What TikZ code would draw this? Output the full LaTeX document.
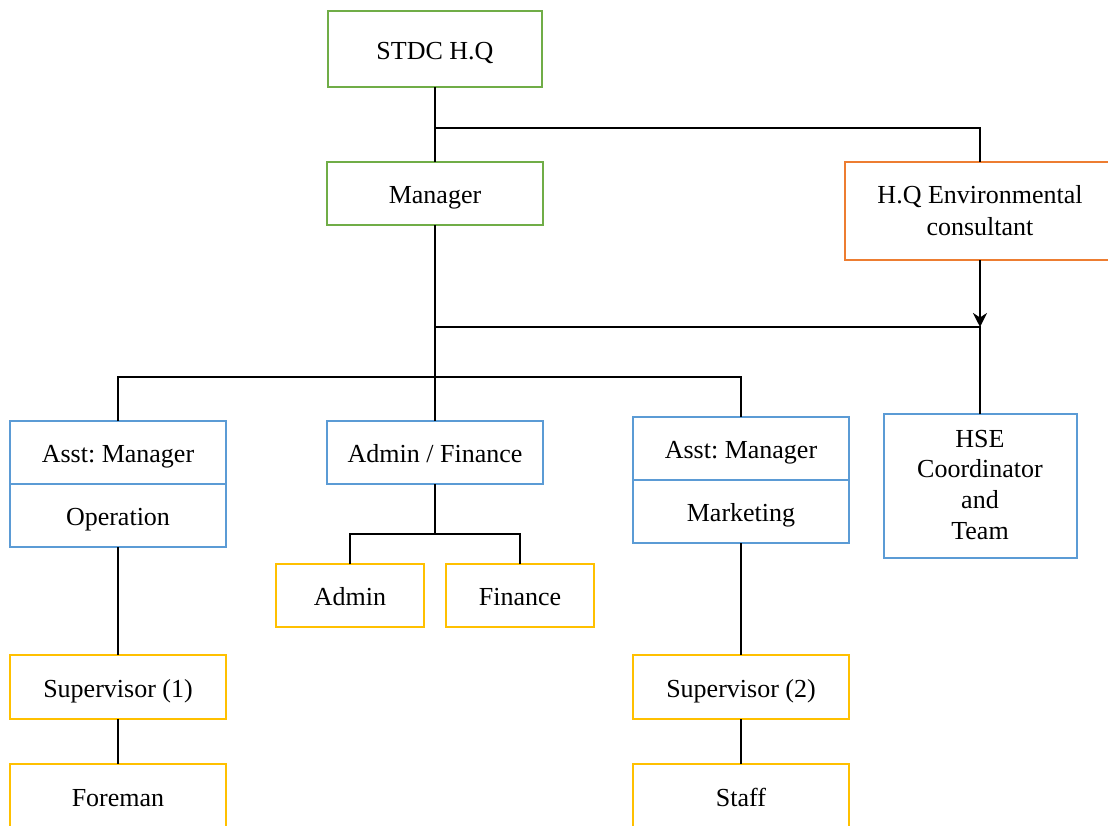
\documentclass[tikz,border=0pt]{standalone}
\usepackage{fontspec}
\setmainfont{Liberation Serif}
\frenchspacing
\usepackage{xcolor}
\definecolor{orggreen}{HTML}{70AD47}
\definecolor{orgorange}{HTML}{ED7D31}
\definecolor{orgblue}{HTML}{5B9BD5}
\definecolor{orgyellow}{HTML}{FFC000}
\usepackage{tikz}
\usetikzlibrary{positioning,arrows.meta}

\begin{document}
\begin{tikzpicture}[x=0.5pt, y=-0.5pt, font=\fontsize{13}{15.4}\selectfont]
    \tikzstyle{box}=[draw, line width=1pt, fill=white, inner sep=0pt, outer sep=0pt,
                     minimum width=108pt, minimum height=31.5pt, align=center,
                     text height=10.4pt, text depth=0pt]
    \tikzstyle{gbox}=[box, draw=orggreen]
    \tikzstyle{obox}=[box, draw=orgorange]
    \tikzstyle{bbox}=[box, draw=orgblue]
    \tikzstyle{ybox}=[box, draw=orgyellow]
    \tikzstyle{link}=[draw=black, line width=1.2pt]

    \useasboundingbox (0,0) rectangle (1108,825);

    \node[gbox, minimum width=107pt, minimum height=38pt] (hq) at (435,49) {STDC H.Q};
    \node[gbox, below=37.5pt of hq] (mgr) {Manager};
    \node[obox, minimum width=135pt, minimum height=49pt, text height=24pt,
          font=\fontsize{13}{16}\selectfont] (env) at (980,211)
          {H.Q Environmental\\consultant};
    \node[bbox] (opa) at (118,452.5) {Asst: Manager};
    \node[bbox, below=0pt of opa] (opb) {Operation};
    \node[bbox] (af) at (435,452.5) {Admin / Finance};
    \node[bbox] (mka) at (741,448.5) {Asst: Manager};
    \node[bbox, below=0pt of mka] (mkb) {Marketing};
    \node[bbox, minimum width=96.5pt, minimum height=72pt, text height=53.4pt]
          (hse) at (980,486) {HSE\\Coordinator\\and\\Team};
    \node[ybox, minimum width=74pt] (adm) at (350,595.5) {Admin};
    \node[ybox, minimum width=74pt, right=11pt of adm] (fin) {Finance};
    \node[ybox, minimum height=32pt] (sv1) at (118,687) {Supervisor (1)};
    \node[ybox, minimum height=32pt, below=22.5pt of sv1] (frm) {Foreman};
    \node[ybox, minimum height=32pt] (sv2) at (741,687) {Supervisor (2)};
    \node[ybox, minimum height=32pt, below=22.5pt of sv2] (stf) {Staff};

    \coordinate (j1) at (435,128);
    \coordinate (j2) at (980,327);
    \coordinate (j3) at (435,377);
    \coordinate (j4) at (435,534);

    \draw[link] (hq) -- (mgr);
    \draw[link] (j1) -| (env);
    \draw[link, -{Stealth[length=7pt, width=7pt]}] (env) -- (j2);
    \draw[link] (mgr.south |- j2) -- (j2) -- (hse);
    \draw[link] (mgr) -- (af);
    \draw[link] (opa) |- (j3) -| (mka);
    \draw[link] (af) -- (j4);
    \draw[link] (adm) |- (j4) -| (fin);
    \draw[link] (opb) -- (sv1);
    \draw[link] (sv1) -- (frm);
    \draw[link] (mkb) -- (sv2);
    \draw[link] (sv2) -- (stf);
  \end{tikzpicture}
\end{document}
